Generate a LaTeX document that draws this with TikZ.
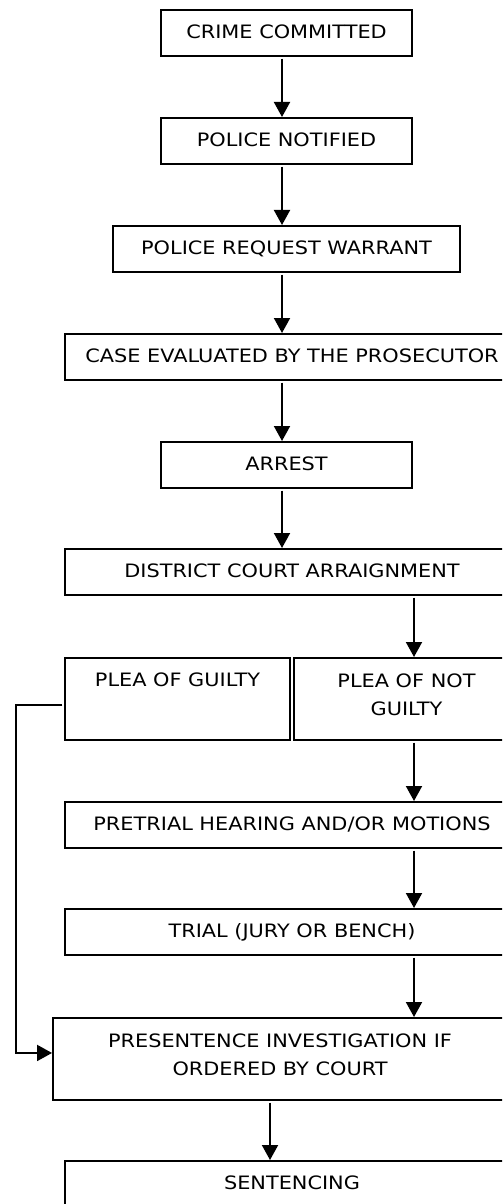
\documentclass[tikz,border=0pt]{standalone}
\usepackage{fontspec}
\setmainfont{DejaVu Sans}[FakeStretch=1.13]
\usetikzlibrary{arrows.meta,calc}
\tikzset{
>={Triangle[length=0.30cm,width=0.32cm]},
box/.style={draw,line width=1.1pt,anchor=north,inner sep=0pt,align=center,text height=0.58cm,text depth=0.34cm},
tall box/.style={box,text depth=1.06cm},
two line box/.style={box,text height=1.16cm,text depth=0.48cm},
freccia/.style={->,line width=1.1pt,shorten <=1pt}}

\begin{document}
\begin{tikzpicture}[font=\fontsize{10.5pt}{16.3pt}\selectfont]
\useasboundingbox (0,0) rectangle (10.04,-24.08);
\clip (0,0) rectangle (10.04,-24.08);

\coordinate (top) at (5.64,0);
\coordinate (mid) at (8.28,0);
\coordinate (low) at (5.40,0);
\coordinate (rail) at (0.32,0);

\node[box,minimum width=5.02cm] (crime) at (5.73,-0.18) {CRIME COMMITTED};
\node[box,minimum width=5.02cm] (notified) at (5.73,-2.34) {POLICE NOTIFIED};
\node[box,minimum width=6.94cm] (warrant) at (5.73,-4.50) {POLICE REQUEST WARRANT};
\node[box,minimum width=9.08cm] (case) at (5.84,-6.66) {CASE EVALUATED BY THE PROSECUTOR};
\node[box,minimum width=5.02cm] (arrest) at (5.73,-8.82) {ARREST};
\node[box,minimum width=9.08cm] (district) at (5.84,-10.96) {DISTRICT COURT ARRAIGNMENT};
\node[tall box,minimum width=4.50cm] (guilty) at (3.55,-13.14) {PLEA OF GUILTY};
\node[two line box,minimum width=4.50cm] (notguilty) at (8.13,-13.14) {PLEA OF NOT\\GUILTY};
\node[box,minimum width=9.08cm] (pretrial) at (5.84,-16.02) {PRETRIAL HEARING AND/OR MOTIONS};
\node[box,minimum width=9.08cm] (trial) at (5.84,-18.16) {TRIAL (JURY OR BENCH)};
\node[two line box,minimum width=9.08cm] (presentence) at (5.60,-20.34) {PRESENTENCE INVESTIGATION IF\\ORDERED BY COURT};
\node[box,minimum width=9.08cm] (sentencing) at (5.84,-23.20) {SENTENCING};

\draw[freccia] (crime.south -| top) -- (notified.north -| top);
\draw[freccia] (notified.south -| top) -- (warrant.north -| top);
\draw[freccia] (warrant.south -| top) -- (case.north -| top);
\draw[freccia] (case.south -| top) -- (arrest.north -| top);
\draw[freccia] (arrest.south -| top) -- (district.north -| top);
\draw[freccia] (district.south -| mid) -- (notguilty.north -| mid);
\draw[freccia] (notguilty.south -| mid) -- (pretrial.north -| mid);
\draw[freccia] (pretrial.south -| mid) -- (trial.north -| mid);
\draw[freccia] (trial.south -| mid) -- (presentence.north -| mid);
\draw[freccia] (presentence.south -| low) -- (sentencing.north -| low);
\draw[freccia] ([yshift=-0.12cm]guilty.west) -| ([yshift=0.12cm]presentence.west -| rail) -- ([yshift=0.12cm]presentence.west);

\end{tikzpicture}
\end{document}
